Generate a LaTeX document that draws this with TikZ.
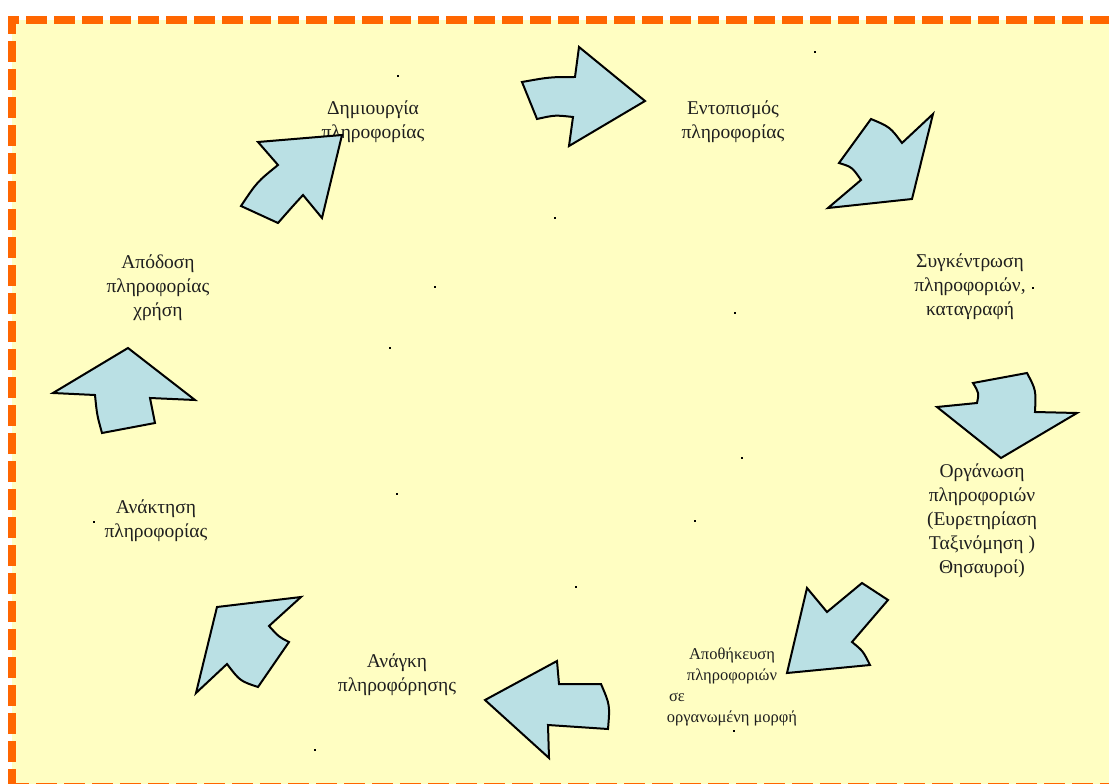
\documentclass[tikz,border=0pt]{standalone}
\usepackage{fontspec}
\setmainfont{Liberation Serif}
\definecolor{bgyellow}{RGB}{255,254,194}
\definecolor{frameorange}{RGB}{255,102,0}
\definecolor{arrowblue}{RGB}{186,224,228}
\tikzset{
  blockarrow/.style={fill=arrowblue, draw=black, line width=2pt, line join=miter},
  lbl/.style={align=center, font=\fontsize{19.5}{24}\selectfont, inner sep=0pt, text=black!88},
  smalllbl/.style={align=center, font=\fontsize{16.5}{21}\selectfont, inner sep=0pt, text=black!88},
  tinydot/.style={fill=black}
}
\begin{document}
\begin{tikzpicture}[x=1pt,y=-1pt]
\useasboundingbox (0,0) rectangle (1109,784);
% background and frame
\fill[white] (0,0) rectangle (1109,784);
\fill[bgyellow] (12,20) rectangle (1125,795);
\draw[frameorange, line width=8pt, dash pattern=on 21pt off 7pt] (12,790) -- (12,20) -- (1125,20);
\draw[frameorange, line width=8pt, dash pattern=on 21pt off 7pt] (8,787) -- (1125,787);

% labels
\node[lbl] (create) at (373,122) {Δημιουργία\\πληροφορίας};
\node[lbl] (locate) at (733,122) {Εντοπισμός\\πληροφορίας};
\node[lbl] (collect) at (970,287) {Συγκέντρωση\\πληροφοριών,\\καταγραφή};
\node[lbl] (organize) at (982,521) {Οργάνωση\\πληροφοριών\\(Ευρετηρίαση\\Ταξινόμηση )\\Θησαυροί)};
\node[smalllbl] (store) at (732,687) {Αποθήκευση\\πληροφοριών\\\makebox[126pt][l]{σε}\\οργανωμένη μορφή};
\node[lbl] (need) at (397,675) {Ανάγκη\\πληροφόρησης};
\node[lbl] (retrieve) at (156,521) {Ανάκτηση\\πληροφορίας};
\node[lbl] (deliver) at (158,288) {Απόδοση\\πληροφορίας\\χρήση};

% arrows
\draw[blockarrow] (258,142) -- (342,135) -- (322,218) -- (303,195) .. controls (292,207) .. (278,223) -- (241,206) .. controls (257,182) .. (278,165) -- cycle;
\draw[blockarrow] (522,82) .. controls (550,77) .. (575,77) -- (579,47) -- (645,101) -- (569,146) -- (573,117) .. controls (555,115) .. (537,119) -- cycle;
\draw[blockarrow] (933,114) -- (912,199) -- (828,208) -- (861,180) .. controls (852,167) .. (839,163) -- (871,119) .. controls (890,127) .. (902,143) -- cycle;
\draw[blockarrow] (973,383) -- (1027,373) .. controls (1036,390) .. (1035,412) -- (1077,413) -- (1001,458) -- (937,407) -- (977,403) .. controls (979,393) .. (973,383) -- cycle;
\draw[blockarrow] (807,588) -- (827,612) -- (862,583) -- (888,600) -- (852,642) .. controls (863,651) .. (870,665) -- (787,673) -- cycle;
\draw[blockarrow] (485,700) -- (557,661) -- (559,684) -- (601,684) .. controls (610,705) .. (608,729) -- (548,725) -- (549,758) -- cycle;
\draw[blockarrow] (217,607) -- (301,597) -- (269,626) .. controls (279,637) .. (289,642) -- (258,687) .. controls (240,681) .. (227,664) -- (196,693) -- cycle;
\draw[blockarrow] (128,348) -- (195,400) -- (150,398) .. controls (153,411) .. (155,423) -- (102,433) .. controls (97,415) .. (95,395) -- (53,393) -- cycle;

% small dots
\foreach \px/\py in {398/76, 815/52, 555/218, 435/287, 735/313, 390/348, 742/458, 397/494, 695/521, 576/587, 315/750, 94/522, 1033/288, 734/731}
  \fill[tinydot] (\px-1.2,\py-1.2) rectangle (\px+1.2,\py+1.2);
\end{tikzpicture}
\end{document}
